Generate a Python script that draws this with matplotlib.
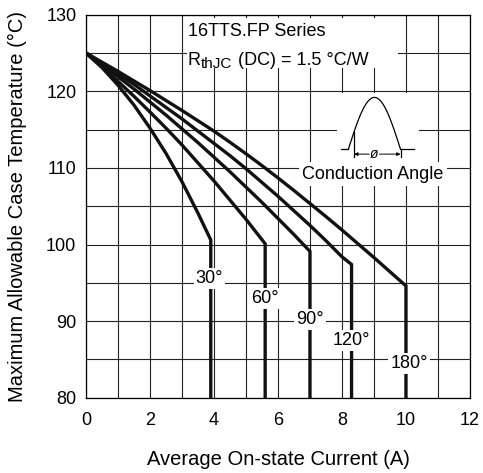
import numpy as np
import matplotlib as mpl
mpl.use("Agg")
import matplotlib.pyplot as plt
from matplotlib.patches import Rectangle
from matplotlib.ticker import MultipleLocator

mpl.rcParams.update({
    "font.family": ["Liberation Sans", "DejaVu Sans"],
})

# ---- data ------------------------------------------------------------
ANGLE_LABELS = ["30°", "60°", "90°", "120°", "180°"]

CURRENT_30 = [0, 0.5, 1, 1.5, 2, 2.5, 3, 3.5, 3.9]
TEMP_30 = [125, 123.1, 120.8, 118.2, 115.2, 111.9, 108.2, 104.1, 100.6]

CURRENT_60 = [0, 0.5, 1, 1.5, 2, 2.5, 3, 3.5, 4, 4.5, 5, 5.6]
TEMP_60 = [125, 123.2, 121.3, 119.35, 117.3, 115.2, 113.0, 110.65, 108.3, 105.8,
           103.3, 100.1]

CURRENT_90 = [0, 0.5, 1, 1.5, 2, 2.5, 3, 3.5, 4, 4.5, 5, 5.5, 6, 6.5, 7]
TEMP_90 = [125, 123.5, 121.9, 120.3, 118.6, 116.9, 115.1, 113.3, 111.4, 109.5, 107.5,
           105.5, 103.4, 101.3, 99.1]

CURRENT_120 = [0, 0.5, 1, 1.5, 2, 2.5, 3, 3.5, 4, 4.5, 5, 5.5, 6, 6.5, 7, 7.5, 8, 8.3]
TEMP_120 = [125, 123.7, 122.3, 120.9, 119.4, 117.9, 116.4, 114.8, 113.2, 111.6, 109.9,
            108.1, 106.3, 104.4, 102.5, 100.5, 98.4, 97.4]

CURRENT_180 = [0, 0.5, 1, 1.5, 2, 2.5, 3, 3.5, 4, 4.5, 5, 5.5, 6, 6.5, 7, 7.5, 8, 8.5,
               9, 9.5, 10]
TEMP_180 = [125, 123.8, 122.6, 121.35, 120.1, 118.8, 117.5, 116.15, 114.8, 113.35,
            111.85, 110.3, 108.7, 107.05, 105.35, 103.65, 101.9, 100.1, 98.3, 96.45, 94.6]

CURRENTS = [CURRENT_30, CURRENT_60, CURRENT_90, CURRENT_120, CURRENT_180]
TEMPS = [TEMP_30, TEMP_60, TEMP_90, TEMP_120, TEMP_180]
LABEL_Y = [95.6, 93.0, 90.2, 87.5, 84.5]

X_MIN, X_MAX = 0, 12
Y_MIN, Y_MAX = 80, 130

FS = 13
FS_LABEL = 14.5


def main():
    fig = plt.figure(figsize=(4.83, 4.73), dpi=100)
    ax = fig.add_axes([0.178, 0.159, 0.795, 0.810])

    ax.set_xlim(X_MIN, X_MAX)
    ax.set_ylim(Y_MIN, Y_MAX)
    ax.xaxis.set_major_locator(MultipleLocator(2))
    ax.xaxis.set_minor_locator(MultipleLocator(1))
    ax.yaxis.set_major_locator(MultipleLocator(10))
    ax.yaxis.set_minor_locator(MultipleLocator(5))
    ax.grid(which="both", color="#222222", lw=0.8)
    ax.set_axisbelow(True)
    ax.tick_params(which="both", length=0, labelsize=FS)
    ax.tick_params(axis="x", pad=10)
    ax.tick_params(axis="y", pad=7)
    for sp in ax.spines.values():
        sp.set_linewidth(0.9)

    # curves, each ending in a vertical drop to the bottom of the axis
    for xs, ys, lbl, ly in zip(CURRENTS, TEMPS, ANGLE_LABELS, LABEL_Y):
        ax.plot(list(xs) + [xs[-1]], list(ys) + [Y_MIN], color="#111111",
                lw=2.4, solid_joinstyle="miter", zorder=3)
        dx = 0.1 if lbl == "180°" else (-0.04 if lbl == "30°" else 0)
        ax.text(xs[-1] + dx, ly, lbl, ha="center", va="center", fontsize=FS,
                zorder=5, bbox=dict(boxstyle="square,pad=0.12", fc="white", ec="none"))

    # title block
    ax.add_patch(Rectangle((3.15, 123.0), 6.6, 6.6, fc="white", ec="none", zorder=2))
    ax.text(3.18, 127.2, "16TTS.FP Series", fontsize=FS, va="baseline", zorder=5)
    t_r = ax.text(3.18, 123.45, "R", fontsize=FS, va="baseline", zorder=5)
    t_sub = ax.annotate("thJC", xy=(1, 0), xycoords=t_r, xytext=(0.3, -1.5),
                        textcoords="offset points", fontsize=11, va="bottom", zorder=5)
    ax.annotate(" (DC) = 1.5 °C/W", xy=(1, 0), xycoords=(t_sub, t_r),
                xytext=(0.5, 0), textcoords="offset points", fontsize=FS,
                va="bottom", zorder=5)

    # conduction angle sketch
    ax.add_patch(Rectangle((7.85, 108.5), 2.55, 11.3, fc="white", ec="none", zorder=2))
    base, amp, x0, x1 = 112.43, 6.77, 8.2, 9.83
    hx = np.linspace(x0, x1, 80)
    hy = base + amp * np.sin(np.pi * (hx - x0) / (x1 - x0))
    ax.plot(hx, hy, color="k", lw=0.9, zorder=3)
    ax.plot([7.96, x0], [base, base], color="k", lw=0.9, zorder=3)
    ax.plot([x1, 10.25], [base, base], color="k", lw=0.9, zorder=3)
    xa = 8.38
    ya = base + amp * np.sin(np.pi * (xa - x0) / (x1 - x0))
    ax.plot([xa, xa], [ya, 111.45], color="k", lw=0.9, zorder=3)
    ax.plot([x1, x1], [base, 111.45], color="k", lw=0.9, zorder=3)
    for a, b in [(8.85, xa), (9.17, x1)]:
        ax.annotate("", xy=(b, 111.8), xytext=(a, 111.8), zorder=3,
                    arrowprops=dict(arrowstyle="-|>", lw=0.7, color="k",
                                    mutation_scale=5, shrinkA=0, shrinkB=0))
    ax.text(9.01, 111.8, "ø", fontsize=10, style="italic", ha="center",
            va="center", zorder=4)
    ax.text(8.97, 109.2, "Conduction Angle", fontsize=FS, ha="center", va="center",
            zorder=5, bbox=dict(boxstyle="square,pad=0.2", fc="white", ec="none"))

    ax.set_xlabel("Average On-state Current (A)", fontsize=FS_LABEL, labelpad=15)
    ax.set_ylabel("Maximum Allowable Case Temperature (°C)", fontsize=FS_LABEL,
                  labelpad=14)

    fig.savefig("out.png", dpi=100)
    plt.close(fig)


if __name__ == "__main__":
    main()
